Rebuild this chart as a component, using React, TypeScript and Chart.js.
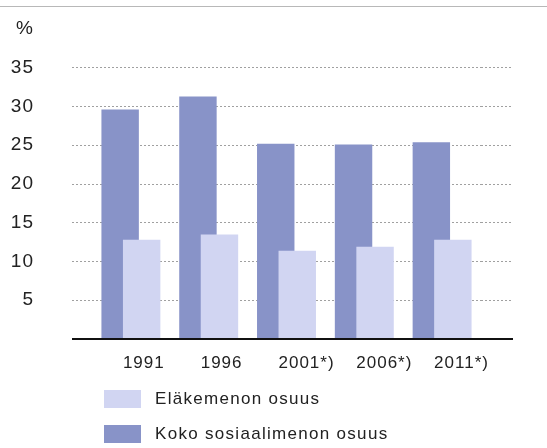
import React, { useEffect, useRef } from "react";
import { Chart, registerables } from "chart.js";

Chart.register(...registerables);

const categories = ["1991", "1996", "2001*)", "2006*)", "2011*)"];
const kokoSosiaalimenot = [29.6, 31.3, 25.2, 25.1, 25.4];
const elakemenot = [12.8, 13.5, 11.4, 11.9, 12.8];
const seriesNames = ["Koko sosiaalimenon osuus", "Eläkemenon osuus"];
const yTickMax = 40;
const yTickStep = 5;
const unitLabel = "%";

const DARK = "#8893c8";
const LIGHT = "#d1d5f2";
const GRID = "#a0a0a0";
const FONT = '"Liberation Sans", Arial, sans-serif';
const TEXT = "#222222";

const gridColor = (c: any) =>
  c.tick && c.tick.value === 0 ? "#111111" : c.tick && c.tick.value === yTickMax ? "rgba(0,0,0,0)" : GRID;
const gridWidth = (c: any) => (c.tick && c.tick.value === 0 ? 2 : 1);
const gridDash = (c: any) => (c.tick && c.tick.value === 0 ? [] : [2, 2]);

const drawOrderPlugin = {
  id: "drawOrder",
  beforeDraw(chart: any) {
    try {
      chart.ctx.letterSpacing = "1px";
    } catch (e) {}
  },
  beforeDatasetsDraw(chart: any) {
    for (let i = 0; i < chart.data.datasets.length; i++) {
      if (chart.isDatasetVisible(i)) chart.getDatasetMeta(i).controller.draw();
    }
    return false;
  },
};

export default function App() {
  const ref = useRef<HTMLCanvasElement | null>(null);
  useEffect(() => {
    if (!ref.current) return;
    const chart = new Chart(ref.current, {
      type: "bar",
      data: {
        labels: categories,
        datasets: [
          {
            label: seriesNames[0],
            data: kokoSosiaalimenot,
            backgroundColor: DARK,
            borderWidth: 0,
            categoryPercentage: 0.553,
            barPercentage: 1.74,
          },
          {
            label: seriesNames[1],
            data: elakemenot,
            backgroundColor: LIGHT,
            borderWidth: 0,
            categoryPercentage: 0.553,
            barPercentage: 1.74,
          },
        ],
      },
      options: {
        responsive: false,
        animation: false,
        layout: { padding: { top: 29, left: 0, right: 34, bottom: 0 } },
        plugins: { legend: { display: false }, tooltip: { enabled: false } },
        scales: {
          x: {
            grid: { display: false },
            border: { display: false },
            ticks: {
              align: "start",
              labelOffset: -8,
              padding: 6,
              color: TEXT,
              font: { family: FONT, size: 17 },
              maxRotation: 0,
              autoSkip: false,
            },
            afterFit: (s: any) => {
              s.height = 109;
              s.paddingLeft = 0;
              s.paddingRight = 0;
            },
          },
          y: {
            min: 0,
            max: yTickMax,
            border: { display: false, dash: gridDash as any },
            grid: {
              color: gridColor as any,
              lineWidth: gridWidth as any,
              drawTicks: true,
              tickLength: 20,
              tickColor: gridColor as any,
              tickWidth: gridWidth as any,
              tickBorderDash: gridDash as any,
            },
            ticks: {
              stepSize: yTickStep,
              padding: 38,
              color: TEXT,
              font: { family: FONT, size: 19 },
              callback: (v: any) => (v === 0 ? "" : v === yTickMax ? unitLabel : String(v)),
            },
            afterFit: (s: any) => {
              s.width = 92;
              s.paddingTop = 0;
              s.paddingBottom = 0;
            },
          },
          y2: {
            position: "right",
            min: 0,
            max: yTickMax,
            border: { display: false, dash: gridDash as any },
            grid: {
              drawOnChartArea: false,
              drawTicks: true,
              tickLength: 32,
              color: gridColor as any,
              lineWidth: gridWidth as any,
              tickColor: gridColor as any,
              tickWidth: gridWidth as any,
              tickBorderDash: gridDash as any,
            },
            ticks: { display: false, stepSize: yTickStep },
            afterFit: (s: any) => {
              s.width = 32;
              s.paddingTop = 0;
              s.paddingBottom = 0;
            },
          },
        },
      },
      plugins: [drawOrderPlugin],
    } as any);
    return () => chart.destroy();
  }, []);

  const legendItems = [
    { name: seriesNames[1], color: LIGHT, top: 390 },
    { name: seriesNames[0], color: DARK, top: 425 },
  ];

  return (
    <div
      style={{
        position: "fixed",
        left: 0,
        top: 0,
        width: 547,
        height: 448,
        background: "#ffffff",
        fontFamily: FONT,
        overflow: "hidden",
      }}
    >
      <div style={{ position: "absolute", left: 0, top: 6, width: 547, height: 1, background: "#b8b8b8" }} />
      <canvas ref={ref} width={547} height={448} style={{ position: "absolute", left: 0, top: 0 }} />
      {legendItems.map((it) => (
        <div key={it.name} style={{ position: "absolute", left: 104, top: it.top, height: 18, display: "flex", alignItems: "center" }}>
          <div style={{ width: 37, height: 18, background: it.color }} />
          <span
            style={{
              marginLeft: 14,
              fontSize: 17,
              letterSpacing: "1.3px",
              color: TEXT,
              lineHeight: "18px",
              whiteSpace: "nowrap",
            }}
          >
            {it.name}
          </span>
        </div>
      ))}
    </div>
  );
}
